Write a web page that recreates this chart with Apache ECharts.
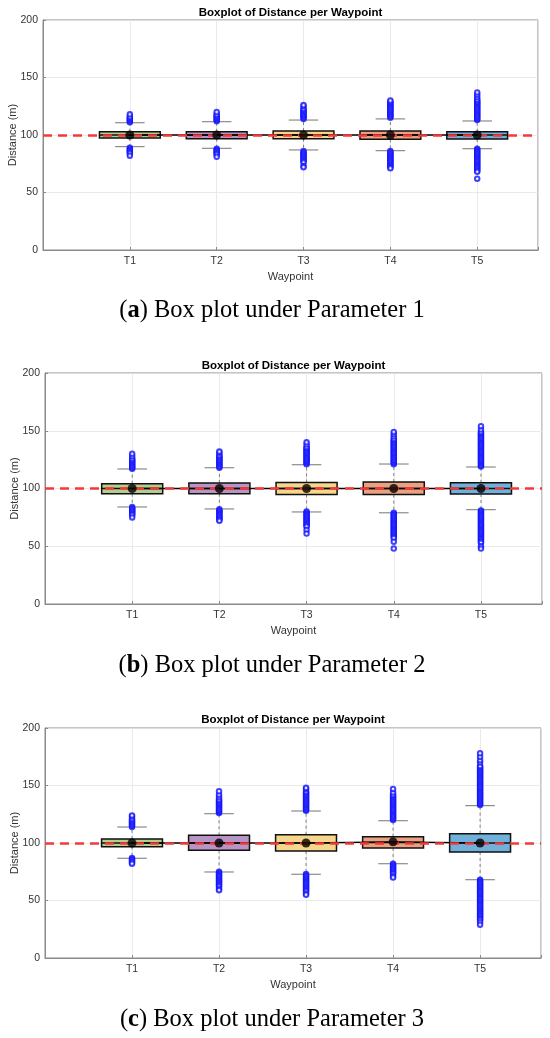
<!DOCTYPE html>
<html>
<head>
<meta charset="utf-8">
<script src="https://cdn.jsdelivr.net/npm/echarts@6/dist/echarts.min.js"></script>
<style>
body { margin: 0; background: #fff; }
#main { width: 550px; height: 1038px; }
</style>
</head>
<body>
<div id="main"></div>
<script type="text/javascript">
	// categories and reference value
	var waypoints = ['T1', 'T2', 'T3', 'T4', 'T5'];
	var targetDistance = 100;
	var captions = ['a', 'b', 'c'];
	var captionTexts = ['Box plot under Parameter 1', 'Box plot under Parameter 2', 'Box plot under Parameter 3'];

	// Parameter 1
	var p1Low = [89.9, 88.4, 87.0, 86.4, 88.1];
	var p1Q1 = [97.4, 96.8, 96.8, 96.2, 96.5];
	var p1Median = [100, 100, 100, 100, 100];
	var p1Q3 = [102.9, 102.9, 103.5, 103.5, 102.9];
	var p1High = [110.7, 111.6, 113.0, 114.0, 112.2];
	var p1Mean = [100, 100, 100, 100, 100];
	var p1OutHigh = [
		[111, 112, 113, 114, 115, 116, 118],
		[112, 113, 114, 115, 116, 117, 118, 120],
		[114, 115, 116, 117, 118, 119, 120, 121, 122, 123, 125, 126],
		[115, 116, 117, 118, 119, 120, 121, 122, 123, 124, 125, 126, 127, 128, 129, 130],
		[113, 114, 115, 116, 117, 118, 119, 120, 121, 122, 123, 124, 125, 126, 127, 128, 129, 130, 131, 133, 135, 137]
	];
	var p1OutLow = [
		[89, 88, 87, 86, 85, 84, 82],
		[88, 87, 86, 85, 84, 83, 81],
		[86, 85, 84, 83, 82, 81, 80, 79, 78, 77, 76, 73, 72],
		[86, 85, 84, 83, 82, 81, 80, 79, 78, 77, 76, 75, 74, 73, 72, 71],
		[88, 87, 86, 85, 84, 83, 82, 81, 80, 79, 78, 77, 76, 75, 74, 73, 72, 71, 70, 69, 68, 62]
	];

	// Parameter 2
	var p2Low = [84.0, 82.3, 79.7, 79.0, 81.7];
	var p2Q1 = [95.5, 95.5, 94.9, 94.7, 95.2];
	var p2Median = [100, 100, 100, 100, 100];
	var p2Q3 = [104.2, 104.8, 105.3, 105.6, 105.0];
	var p2High = [116.9, 118.0, 120.6, 121.2, 118.6];
	var p2Mean = [100, 100, 100, 100, 100];
	var p2OutHigh = [
		[117, 118, 119, 120, 121, 122, 123, 124, 125, 126, 128, 130],
		[118, 119, 120, 121, 122, 123, 124, 125, 126, 127, 128, 129, 131, 132],
		[121, 122, 123, 124, 125, 126, 127, 128, 129, 130, 131, 132, 133, 134, 135, 136, 138, 140],
		[121, 122, 123, 124, 125, 126, 127, 128, 129, 130, 131, 132, 133, 134, 135, 136, 137, 138, 139, 140, 141, 142, 143, 145, 147, 149],
		[119, 120, 121, 122, 123, 124, 125, 126, 127, 128, 129, 130, 131, 132, 133, 134, 135, 136, 137, 138, 139, 140, 141, 142, 143, 144, 145, 146, 147, 148, 149, 151, 154]
	];
	var p2OutLow = [
		[84, 83, 82, 81, 80, 79, 78, 77, 75],
		[82, 81, 80, 79, 78, 77, 76, 75, 74, 73, 72],
		[80, 79, 78, 77, 76, 75, 74, 73, 72, 71, 70, 69, 68, 67, 64, 61],
		[79, 78, 77, 76, 75, 74, 73, 72, 71, 70, 69, 68, 67, 66, 65, 64, 63, 62, 61, 60, 59, 58, 57, 54, 48],
		[81, 80, 79, 78, 77, 76, 75, 74, 73, 72, 71, 70, 69, 68, 67, 66, 65, 64, 63, 62, 61, 60, 59, 58, 57, 56, 55, 54, 53, 50, 48]
	];

	// Parameter 3
	var p3Low = [86.7, 74.8, 72.8, 82.0, 68.1];
	var p3Q1 = [96.8, 93.6, 93.0, 95.7, 92.2];
	var p3Median = [100, 100, 100, 100.5, 100];
	var p3Q3 = [103.5, 106.7, 107.2, 105.5, 108.1];
	var p3High = [113.9, 125.5, 127.8, 119.4, 132.5];
	var p3Mean = [100, 100, 100, 101, 100];
	var p3OutHigh = [
		[114, 115, 116, 117, 118, 119, 120, 121, 123, 124],
		[126, 127, 128, 129, 130, 131, 132, 133, 134, 135, 136, 137, 138, 140, 142, 145],
		[128, 129, 130, 131, 132, 133, 134, 135, 136, 137, 138, 139, 140, 141, 142, 143, 144, 145, 147, 148],
		[120, 121, 122, 123, 124, 125, 126, 127, 128, 129, 130, 131, 132, 133, 134, 135, 136, 137, 138, 139, 140, 141, 142, 144, 147],
		[133, 134, 135, 136, 137, 138, 139, 140, 141, 142, 143, 144, 145, 146, 147, 148, 149, 150, 151, 152, 153, 154, 155, 156, 157, 158, 159, 160, 161, 162, 163, 164, 165, 166, 167, 170, 172, 175, 178]
	];
	var p3OutLow = [
		[87, 86, 85, 84, 83, 82],
		[75, 74, 73, 72, 71, 70, 69, 68, 67, 66, 65, 64, 63, 62, 60, 59],
		[73, 72, 71, 70, 69, 68, 67, 66, 65, 64, 63, 62, 61, 60, 59, 58, 56, 55],
		[82, 81, 80, 79, 78, 77, 76, 75, 74, 73, 71, 70],
		[68, 67, 66, 65, 64, 63, 62, 61, 60, 59, 58, 57, 56, 55, 54, 53, 52, 51, 50, 49, 48, 47, 46, 45, 44, 43, 42, 41, 40, 39, 38, 37, 36, 35, 34, 33, 31, 29]
	];

	var panels = [
		{ low: p1Low, q1: p1Q1, med: p1Median, q3: p1Q3, high: p1High, mean: p1Mean, outHigh: p1OutHigh, outLow: p1OutLow },
		{ low: p2Low, q1: p2Q1, med: p2Median, q3: p2Q3, high: p2High, mean: p2Mean, outHigh: p2OutHigh, outLow: p2OutLow },
		{ low: p3Low, q1: p3Q1, med: p3Median, q3: p3Q3, high: p3High, mean: p3Mean, outHigh: p3OutHigh, outLow: p3OutLow }
	];

	var boxColors = ['#b2cd8c', '#b894c4', '#f6d68b', '#e9a17f', '#70b1db'];
	// plot box left/right edges and top/height, in px
	var gridPos = [
		{ left: 43, right: 12, top: 20, height: 230 },
		{ left: 45, right: 8, top: 373, height: 231 },
		{ left: 45, right: 9, top: 728, height: 230 }
	];
	var titleTops = [7, 360, 714];
	var captionTops = [298, 653, 1007];

	var FONT = 'Liberation Sans';
	var BOX_HALF = 0.35;
	var CAP_HALF = 0.17;

	function renderBox(params, api) {
		var x = api.value(0);
		var low = api.coord([x, api.value(1)]);
		var q1 = api.coord([x, api.value(2)]);
		var med = api.coord([x, api.value(3)]);
		var q3 = api.coord([x, api.value(4)]);
		var high = api.coord([x, api.value(5)]);
		var xl = api.coord([x - BOX_HALF, 0])[0];
		var xr = api.coord([x + BOX_HALF, 0])[0];
		var cl = api.coord([x - CAP_HALF, 0])[0];
		var cr = api.coord([x + CAP_HALF, 0])[0];
		var grayDash = { stroke: '#7f7f7f', lineWidth: 1, lineDash: [3, 3] };
		var gray = { stroke: '#8c8c8c', lineWidth: 1.2 };
		return {
			type: 'group',
			children: [
				{ type: 'line', shape: { x1: high[0], y1: q3[1], x2: high[0], y2: high[1] }, style: grayDash },
				{ type: 'line', shape: { x1: low[0], y1: q1[1], x2: low[0], y2: low[1] }, style: grayDash },
				{ type: 'line', shape: { x1: cl, y1: high[1], x2: cr, y2: high[1] }, style: gray },
				{ type: 'line', shape: { x1: cl, y1: low[1], x2: cr, y2: low[1] }, style: gray },
				{
					type: 'rect',
					shape: { x: xl, y: q3[1], width: xr - xl, height: q1[1] - q3[1] },
					style: { fill: boxColors[params.dataIndex], stroke: '#111', lineWidth: 1.5 }
				},
				{ type: 'line', shape: { x1: xl, y1: med[1], x2: xr, y2: med[1] }, style: { stroke: '#111', lineWidth: 1.5 } }
			]
		};
	}

	var option = {
		animation: false,
		backgroundColor: '#fff',
		title: [],
		grid: [],
		xAxis: [],
		yAxis: [],
		series: []
	};

	panels.forEach(function(p, k) {
		var g = gridPos[k];
		var gridCenter = g.left + (550 - g.left - g.right) / 2;
		option.title.push({
			text: 'Boxplot of Distance per Waypoint',
			left: gridCenter,
			textAlign: 'center',
			top: titleTops[k],
			padding: 0,
			textStyle: { fontFamily: FONT, fontSize: 11.5, fontWeight: 'bold', color: '#000' }
		});
		option.title.push({
			text: '({b|' + captions[k] + '}) ' + captionTexts[k],
			left: 272,
			textAlign: 'center',
			top: captionTops[k],
			padding: 0,
			textStyle: {
				fontFamily: 'Liberation Serif', fontSize: 24.5, fontWeight: 'normal', color: '#000',
				rich: { b: { fontFamily: 'Liberation Serif', fontSize: 24.5, fontWeight: 'bold', color: '#000' } }
			}
		});
		option.grid.push({
			left: g.left, right: g.right, top: g.top, height: g.height,
			outerBoundsMode: 'none',
			containLabel: false,
			show: true, borderColor: '#8a8a8a', borderWidth: 1
		});
		option.xAxis.push({
			gridIndex: k,
			type: 'value',
			min: 0,
			max: 5.7,
			interval: 1,
			name: 'Waypoint',
			nameLocation: 'middle',
			nameGap: 21,
			nameMoveOverlap: false,
			nameTextStyle: { fontFamily: FONT, fontSize: 11, color: '#333' },
			axisLine: { lineStyle: { color: '#8a8a8a' } },
			axisTick: { inside: true, length: 3, lineStyle: { color: '#8a8a8a' } },
			axisLabel: {
				margin: 6, fontFamily: FONT, fontSize: 10.5, color: '#333',
				formatter: function(v) { return (v >= 1 && v <= 5 && v % 1 === 0) ? waypoints[v - 1] : ''; }
			},
			splitLine: { show: true, lineStyle: { color: '#e4e4e4', width: 0.8 } }
		});
		option.yAxis.push({
			gridIndex: k,
			type: 'value',
			min: 0,
			max: 200,
			interval: 50,
			name: 'Distance (m)',
			nameLocation: 'middle',
			nameGap: 25,
			nameMoveOverlap: false,
			nameTextStyle: { fontFamily: FONT, fontSize: 11, color: '#333' },
			axisLine: { show: true, lineStyle: { color: '#8a8a8a' } },
			axisTick: { show: true, inside: true, length: 3, lineStyle: { color: '#8a8a8a' } },
			axisLabel: { margin: 5, fontFamily: FONT, fontSize: 10.5, color: '#333' },
			splitLine: { show: true, lineStyle: { color: '#e4e4e4', width: 0.8 } }
		});

		var boxData = [], outData = [], meanData = [];
		for (var i = 0; i < waypoints.length; i++) {
			boxData.push([i + 1, p.low[i], p.q1[i], p.med[i], p.q3[i], p.high[i]]);
			meanData.push([i + 1, p.mean[i]]);
			p.outHigh[i].forEach(function(v) { outData.push([i + 1, v]); });
			p.outLow[i].forEach(function(v) { outData.push([i + 1, v]); });
		}

		option.series.push({
			type: 'custom',
			xAxisIndex: k, yAxisIndex: k,
			renderItem: renderBox,
			encode: { x: 0, y: [1, 2, 3, 4, 5] },
			data: boxData,
			z: 2
		});
		option.series.push({
			type: 'scatter',
			xAxisIndex: k, yAxisIndex: k,
			symbol: 'emptyCircle',
			symbolSize: 4.5,
			itemStyle: { color: '#1414ff', borderColor: '#1414ff', borderWidth: 1 },
			data: outData,
			z: 3
		});
		option.series.push({
			type: 'line',
			xAxisIndex: k, yAxisIndex: k,
			data: meanData,
			showSymbol: false,
			lineStyle: { color: '#000', width: 1.3 },
			z: 3,
			markLine: {
				silent: true,
				symbol: 'none',
				label: { show: false },
				lineStyle: { color: '#f23a3a', width: 2.5, type: [9, 6] },
				data: [{ yAxis: targetDistance }],
				z: 4
			}
		});
		option.series.push({
			type: 'scatter',
			xAxisIndex: k, yAxisIndex: k,
			symbol: 'circle',
			symbolSize: 9,
			itemStyle: { color: '#000' },
			data: meanData,
			z: 5
		});
	});

	var myChart = echarts.init(document.getElementById('main'));
	myChart.setOption(option);
</script>
</body>
</html>
